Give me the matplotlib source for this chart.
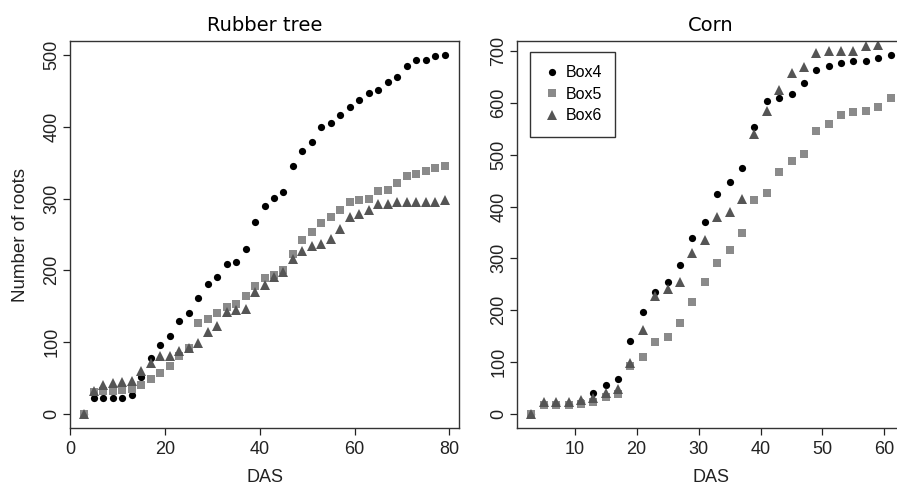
import matplotlib
matplotlib.use("Agg")
import matplotlib.pyplot as plt
import numpy as np

plt.rcParams['font.family'] = ['Liberation Sans', 'DejaVu Sans']

# Rubber tree: days after sowing and cumulative root counts
rubber_das = list(range(3, 80, 2))
rubber_box4 = [0, 22, 22, 22, 22, 26, 51, 78, 96, 108, 129, 140, 162, 181, 191,
               209, 212, 230, 268, 290, 301, 309, 346, 366, 379, 400, 406, 417,
               428, 438, 448, 451, 463, 470, 485, 494, 493, 499, 500]
rubber_box5 = [0, 30, 31, 32, 33, 34, 40, 49, 57, 67, 80, 92, 127, 132, 140,
               149, 153, 164, 178, 189, 193, 201, 223, 242, 253, 266, 275, 284,
               295, 298, 300, 310, 312, 322, 332, 335, 339, 343, 345]
rubber_box6 = [0, 32, 40, 43, 44, 46, 60, 71, 80, 80, 88, 92, 99, 114, 123,
               142, 145, 146, 170, 179, 190, 197, 216, 227, 234, 237, 244, 257,
               274, 278, 284, 293, 293, 295, 296, 296, 296, 296, 298]

# Corn
corn_das = list(range(3, 62, 2))
corn_box4 = [0, 19, 19, 19, 22, 40, 56, 67, 141, 197, 234, 254, 287, 339, 370,
             424, 447, 475, 554, 604, 609, 617, 639, 663, 671, 678, 681, 681,
             687, 692]
corn_box5 = [0, 17, 17, 17, 19, 23, 32, 38, 92, 109, 138, 148, 175, 215, 254,
             290, 317, 348, 413, 427, 466, 488, 501, 546, 560, 576, 582, 584,
             592, 609]
corn_das6 = list(range(3, 60, 2))
corn_box6 = [0, 22, 22, 22, 26, 30, 40, 47, 97, 161, 227, 240, 255, 310, 335,
             379, 390, 414, 541, 584, 626, 657, 670, 696, 700, 700, 700, 710,
             711]

rubber_xticks = [0, 20, 40, 60, 80]
rubber_yticks = [0, 100, 200, 300, 400, 500]
corn_xticks = [10, 20, 30, 40, 50, 60]
corn_yticks = [0, 100, 200, 300, 400, 500, 600, 700]

C4, C5, C6 = '#000000', '#8a8a8a', '#555555'
styles = [dict(marker='o', color=C4, ms=5.2),
          dict(marker='s', color=C5, ms=6.4),
          dict(marker='^', color=C6, ms=7.4)]
names = ['Box4', 'Box5', 'Box6']

W, H = 897, 486
fig = plt.figure(figsize=(W / 100, H / 100), dpi=100)

def px_axes(x0, y0, x1, y1):
    return fig.add_axes([x0 / W, 1 - y1 / H, (x1 - x0) / W, (y1 - y0) / H])

ax1 = px_axes(70, 41, 459, 428)
ax2 = px_axes(517, 41, 905, 428)


def r_limits(vals):
    lo, hi = min(vals), max(vals)
    pad = 0.04 * (hi - lo)
    return lo - pad, hi + pad


def draw(ax, xs_list, ys_list, title, xticks, yticks, ylim_vals, xlim_vals):
    for xs, ys, st, nm in zip(xs_list, ys_list, styles, names):
        ax.plot(xs, ys, linestyle='none', marker=st['marker'], ms=st['ms'],
                mfc=st['color'], mec=st['color'], mew=0, label=nm,
                clip_on=True)
    ax.set_xlim(*r_limits(xlim_vals))
    ax.set_ylim(*r_limits(ylim_vals))
    ax.set_xticks(xticks)
    ax.set_yticks(yticks)
    ax.tick_params(direction='out', length=5, width=0.9, labelsize=13,
                   colors='#222222')
    ax.tick_params(axis='y', pad=2)
    ax.tick_params(axis='x', pad=4)
    for lab in ax.get_yticklabels():
        lab.set_rotation(90)
        lab.set_va('center')
    for s in ax.spines.values():
        s.set_linewidth(1.0)
        s.set_color('#333333')
    ax.set_xlabel('DAS', fontsize=13, labelpad=8, color='#222222')
    ax.set_title(title, fontsize=14, family='DejaVu Sans', pad=7)


draw(ax1, [rubber_das] * 3, [rubber_box4, rubber_box5, rubber_box6],
     'Rubber tree', rubber_xticks, rubber_yticks, rubber_box4, rubber_das)
ax1.set_ylabel('Number of roots', fontsize=13.5, labelpad=10, color='#222222')

draw(ax2, [corn_das, corn_das, corn_das6], [corn_box4, corn_box5, corn_box6],
     'Corn', corn_xticks, corn_yticks, corn_box4, corn_das)

leg = ax2.legend(loc='upper left', bbox_to_anchor=(0.034, 0.972),
                 borderaxespad=0, fontsize=11.5, handlelength=1.0,
                 handletextpad=0.35, borderpad=0.85, labelspacing=0.4,
                 fancybox=False, framealpha=1, edgecolor='#333333',
                 numpoints=1)
leg.get_frame().set_linewidth(1.0)

fig.savefig('out.png', dpi=100)
